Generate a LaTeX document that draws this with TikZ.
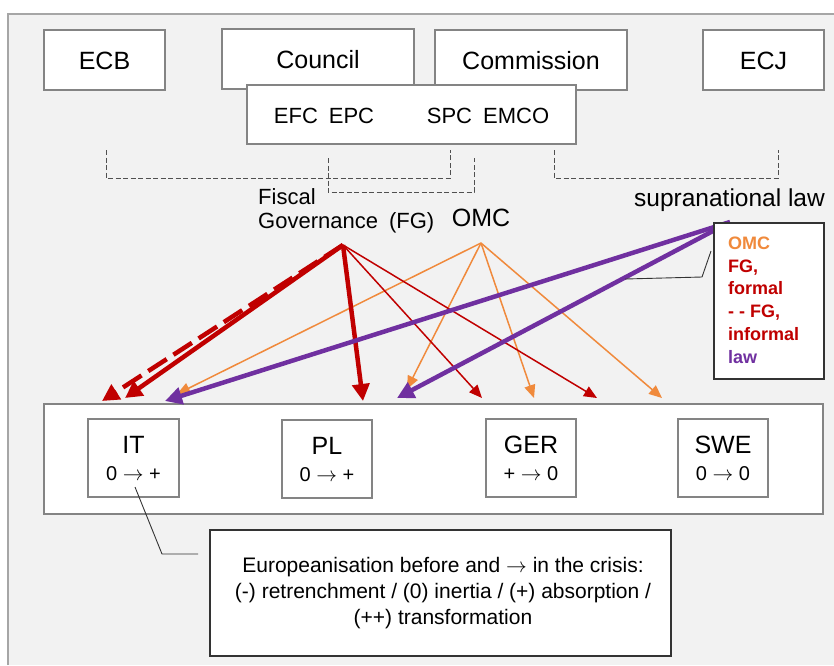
\documentclass[tikz,border=0pt]{standalone}
\usepackage{fontspec}
\setmainfont{Liberation Sans}
\usetikzlibrary{arrows.meta}
\definecolor{bg}{HTML}{F2F2F2}
\definecolor{framegray}{HTML}{A6A6A6}
\definecolor{boxline}{HTML}{848484}
\definecolor{fgred}{HTML}{C00000}
\definecolor{omcor}{HTML}{F08A3C}
\definecolor{lawpu}{HTML}{7030A0}
\definecolor{dashgray}{HTML}{505050}
\newcommand{\myto}{\ensuremath{\rightarrow}}
\begin{document}
\begin{tikzpicture}[x=1pt,y=-1pt,
  box/.style={draw=boxline, fill=white, line width=1.5pt, inner sep=0pt},
  darkbox/.style={draw=black!80, fill=white, line width=1.2pt, inner sep=0pt},
  lbl/.style={inner sep=0pt, text=black},
  big/.style={font=\fontsize{25}{30}\selectfont},
  mid/.style={font=\fontsize{22}{26}\selectfont},
  small/.style={font=\fontsize{20}{24}\selectfont},
  bracket/.style={draw=dashgray, line width=1pt, dash pattern=on 5pt off 2.5pt},
  thickred/.style={draw=fgred, line width=4.5pt, -{Triangle[length=17pt,width=17pt]}},
  dashred/.style={thickred, dash pattern=on 22pt off 8pt},
  thinred/.style={draw=fgred, line width=1.5pt, -{Triangle[length=13pt,width=11pt]}},
  thinor/.style={draw=omcor, line width=1.5pt, -{Triangle[length=13pt,width=11pt]}},
  thickpu/.style={draw=lawpu, line width=4.5pt, -{Triangle[length=17pt,width=17pt]}},
  callout/.style={draw=black!80, line width=0.9pt}
]
\useasboundingbox (0,0) rectangle (834,665);
% background
\fill[bg] (8,14) rectangle (834,665);
\draw[framegray, line width=1.5pt] (8,665) -- (8,14) -- (834,14);

% top institutions
\node[box, minimum width=121, minimum height=60] (ecb) at (104.5,60) {};
\node[lbl, big] (ecbt) at (104.5,61) {ECB};
\node[box, minimum width=192, minimum height=60] (council) at (318,59) {};
\node[lbl, big] (councilt) at (318,60) {Council};
\node[box, minimum width=192, minimum height=60] (commission) at (531,60) {};
\node[lbl, big] (commissiont) at (531,61) {Commission};
\node[box, minimum width=121, minimum height=60] (ecj) at (763.5,60) {};
\node[lbl, big] (ecjt) at (763.5,61) {ECJ};
\node[box, minimum width=329, minimum height=59] (efc) at (411.5,114.5) {};
\node[lbl, mid] (efct) at (324,116) {EFC\hspace{0.5em}EPC};
\node[lbl, mid] (spct) at (488,116) {SPC\hspace{0.5em}EMCO};

% dashed brackets
\coordinate (b1a) at (106,150); \coordinate (b1b) at (450,150);
\coordinate (b2a) at (328,158); \coordinate (b2b) at (474,158);
\coordinate (b3a) at (554,150); \coordinate (b3b) at (778,150);
\draw[bracket] (b1a) -- ++(0,28) -| (b1b);
\draw[bracket] (b2a) -- ++(0,34) -| (b2b);
\draw[bracket] (b3a) -- ++(0,28) -| (b3b);

% labels
\node[lbl, mid, anchor=west] (fiscal) at (258,197) {Fiscal};
\node[lbl, mid, anchor=west] (gov) at (258,223) {Governance\hspace{0.5em}(FG)};
\node[lbl, big] (omclbl) at (481,218) {OMC};
\node[lbl, font=\fontsize{24.5}{28}\selectfont] (suplbl) at (729.5,200) {supranational law};

% countries
\node[box, minimum width=779, minimum height=110] (countries) at (433.5,459) {};
\node[box, minimum width=91, minimum height=78] (it) at (133.5,458) {};
\node[lbl, big] (itn) at (133.5,445) {IT};
\node[lbl, small] (itv) at (133.5,474) {0 \myto{} +};
\node[box, minimum width=90, minimum height=78] (pl) at (327,459) {};
\node[lbl, big] (pln) at (327,446) {PL};
\node[lbl, small] (plv) at (327,475) {0 \myto{} +};
\node[box, minimum width=90, minimum height=78] (ger) at (531,458) {};
\node[lbl, big] (gern) at (531,445) {GER};
\node[lbl, small] (gerv) at (531,474) {+ \myto{} 0};
\node[box, minimum width=90, minimum height=78] (swe) at (723,458) {};
\node[lbl, big] (swen) at (723,445) {SWE};
\node[lbl, small] (swev) at (723,474) {0 \myto{} 0};

% sources and targets
\coordinate (fg) at (343,245);
\coordinate (omc) at (481,243);
\coordinate (law) at (730,222);
\coordinate (tdash) at (102,401);
\coordinate (tredit) at (125,398);
\coordinate (tpuit) at (165,401);
\coordinate (torit) at (177,394);
\coordinate (tredpl) at (363,401);
\coordinate (tpupl) at (397,398);
\coordinate (torpl) at (407,389);
\coordinate (tredger) at (482,398);
\coordinate (torger) at (534,398);
\coordinate (tredswe) at (597,398);
\coordinate (torswe) at (662,398);

% arrows
\draw[thinor] (omc) -- (torit);
\draw[thinor] (omc) -- (torpl);
\draw[thinor] (omc) -- (torger);
\draw[thinor] (omc) -- (torswe);
\draw[thinred] (fg) -- (tredger);
\draw[thinred] (fg) -- (tredswe);
\draw[dashred] (fg) -- (tdash);
\draw[thickred] (fg) -- (tredit);
\draw[thickred] (fg) -- (tredpl);
\draw[thickpu] (law) -- (tpuit);
\draw[thickpu] (law) -- (tpupl);

% legend
\coordinate (callstart) at (711,251);
\coordinate (callend) at (625,279);
\coordinate (callmid) at (702,277);
\node[darkbox, minimum width=110, minimum height=156] (legend) at (769,301) {};
\draw[callout] (callstart) -- (callmid) -- (callend);
\node[lbl, anchor=north west, align=left, font=\fontsize{18}{22.8}\selectfont\bfseries] (legt) at (728,236.5)
  {\textcolor{omcor}{OMC}\\ \textcolor{fgred}{FG,}\\ \textcolor{fgred}{formal}\\ \textcolor{fgred}{- - FG,}\\ \textcolor{fgred}{informal}\\ \textcolor{lawpu}{law}};

% explanation
\node[darkbox, minimum width=461, minimum height=126] (expl) at (440.5,593) {};
\node[lbl, align=center, font=\fontsize{21}{26}\selectfont] (explt) at (443,593)
  {Europeanisation before and \myto{} in the crisis:\\ (-) retrenchment / (0) inertia / (+) absorption /\\ (++) transformation};
\coordinate (cbend) at (162,554);
\coordinate (cend) at (198,554);
\draw[callout] (135,487) -- (cbend) -- (cend);
\end{tikzpicture}
\end{document}
